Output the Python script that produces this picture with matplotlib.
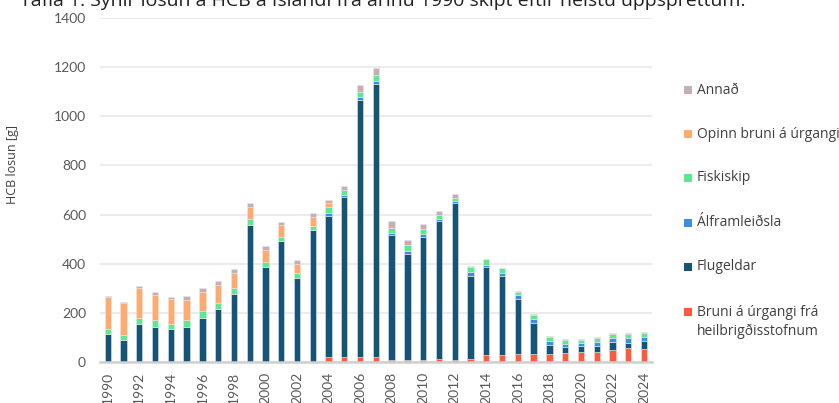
import numpy as np
import matplotlib.pyplot as plt
from matplotlib.patches import Rectangle

# HCB losun eftir uppsprettum, 1990-2024 (g)
years = list(range(1990, 2025))

bruni = [0, 0, 0, 0, 0, 0, 0, 0, 0, 0,
         0, 0, 0, 0, 19, 19, 22, 22, 10, 7,
         7, 12, 7, 11, 30, 30, 34, 34, 34, 37,
         41, 41, 49, 57, 52]
flugeldar = [116, 91, 155, 143, 135, 143, 180, 214, 276, 556,
             385, 491, 341, 536, 574, 651, 1044, 1109, 506, 434,
             500, 563, 641, 339, 355, 320, 223, 126, 35, 26,
             24, 24, 31, 21, 32]
alframleidsla = [0, 0, 0, 0, 0, 0, 0, 0, 0, 0,
                 0, 0, 0, 0, 12, 10, 11, 13, 11, 12,
                 13, 6, 6, 16, 11, 12, 14, 16, 17, 10,
                 13, 17, 18, 20, 19]
fiskiskip = [19, 19, 25, 27, 21, 27, 27, 27, 25, 25,
             23, 19, 20, 19, 25, 21, 23, 23, 20, 23,
             23, 19, 14, 19, 22, 19, 12, 16, 16, 17,
             12, 15, 15, 15, 15]
opinn = [130, 132, 123, 103, 100, 84, 79, 71, 62, 49,
         49, 46, 39, 34, 18, 0, 0, 0, 0, 0,
         0, 0, 0, 0, 0, 0, 0, 0, 0, 0,
         0, 0, 0, 0, 0]
annad = [3, 4, 6, 11, 8, 14, 15, 16, 15, 18,
         14, 14, 16, 16, 13, 17, 27, 30, 26, 19,
         19, 16, 17, 4, 3, 3, 7, 5, 4, 4,
         4, 4, 4, 4, 6]

series = [
    ("Bruni á úrgangi frá\nheilbrigðisstofnum", bruni, "#ff5a3c"),
    ("Flugeldar", flugeldar, "#135478"),
    ("Álframleiðsla", alframleidsla, "#3b8ee4"),
    ("Fiskiskip", fiskiskip, "#5be88e"),
    ("Opinn bruni á úrgangi", opinn, "#ffaa6e"),
    ("Annað", annad, "#c4b0b4"),
]

fig = plt.figure(figsize=(8.39, 4.03), dpi=100)
ax = fig.add_axes([0.119, 0.1017, 0.658, 0.8536])

x = np.arange(len(years))
bottom = np.zeros(len(years))
for name, vals, col in series:
    vals = np.array(vals, dtype=float)
    ax.bar(x, vals, width=0.4, bottom=bottom, color=col,
           edgecolor="#e6e6e6", linewidth=0.4, zorder=3)
    bottom += vals

ax.set_xlim(-0.5, len(years) - 0.5)
ax.set_ylim(0, 1400)
ax.set_yticks(range(0, 1401, 200))
ax.grid(axis="y", color="#ebebeb", linewidth=1.5, zorder=0)
for s in ["top", "right", "left"]:
    ax.spines[s].set_visible(False)
ax.spines["bottom"].set_color("#d0d0d0")
ax.spines["bottom"].set_linewidth(1.8)
ax.spines["bottom"].set_zorder(4)

ax.set_xticks(x[::2])
ax.set_xticklabels([str(y) for y in years[::2]], rotation=90)
ax.tick_params(length=0, labelsize=10, labelcolor="#595959")
ax.tick_params(axis="y", pad=10)
ax.tick_params(axis="x", pad=7)
for lab in ax.get_xticklabels() + ax.get_yticklabels():
    lab.set_family("Lato")

fig.text(13 / 839, 1 - 164 / 403, "HCB losun [g]", rotation=90,
         ha="center", va="center", fontsize=9, color="#404040", family="Open Sans")

# title is cut off at the top in the original
fig.text(745 / 839, 1 - 6 / 403,
         "Tafla 1: Sýnir losun á HCB á Íslandi frá árinu 1990 skipt eftir helstu uppsprettum.",
         ha="right", va="baseline", fontsize=14, color="#222222", family="Open Sans")

# legend, drawn by hand to match the spacing
W, H = 839, 403
leg_y = [312, 267, 223, 178, 134, 90]
for (name, vals, col), yy in zip(series, leg_y):
    fig.patches.append(Rectangle(((684) / W, 1 - (yy + 4) / H), 8 / W, 8 / H,
                                 transform=fig.transFigure, facecolor=col,
                                 edgecolor="none"))
    fig.text(697 / W, 1 - yy / H, name.split("\n")[0], ha="left", va="center",
             fontsize=10, color="#404040", family="Open Sans")
    if "\n" in name:
        fig.text(697 / W, 1 - (yy + 19) / H, name.split("\n")[1], ha="left",
                 va="center", fontsize=10, color="#404040", family="Open Sans")

fig.savefig("out.png", dpi=100)
